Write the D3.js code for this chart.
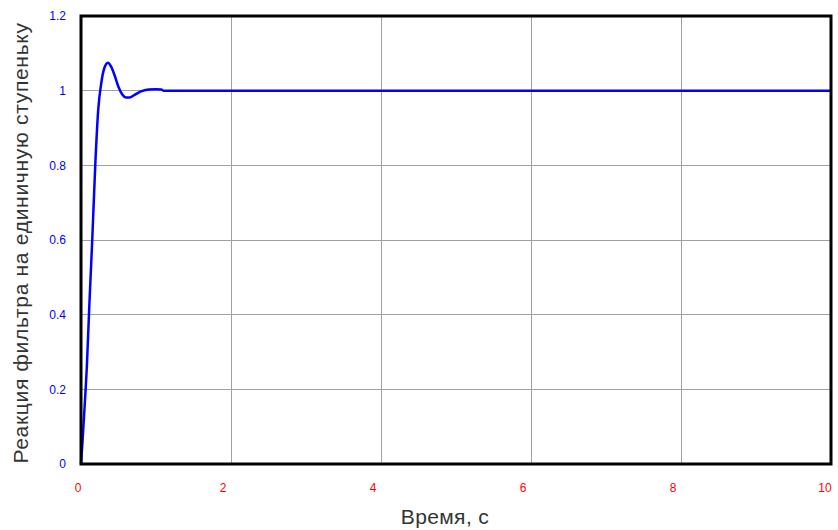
<!DOCTYPE html>
<html>
<head>
<meta charset="utf-8">
<script src="https://cdn.jsdelivr.net/npm/d3@7"></script>
<style>
  body { margin: 0; background: #fff; }
  text { font-family: "Liberation Sans", Arial, sans-serif; }
</style>
</head>
<body>
<div id="chart"></div>
<script>
// step response of the filter
var times  = [0, 0.02, 0.05, 0.08, 0.11, 0.15, 0.19, 0.23, 0.27, 0.31, 0.36, 0.40, 0.45, 0.50, 0.55, 0.60, 0.65, 0.70, 0.75, 0.80, 0.90, 1.00, 1.07, 1.10, 10];
var values = [0, 0.06, 0.16, 0.27, 0.42, 0.60, 0.80, 0.95, 1.02, 1.06, 1.075, 1.065, 1.04, 1.01, 0.99, 0.982, 0.982, 0.987, 0.993, 0.998, 1.003, 1.004, 1.003, 1.0, 1.0];
var xTicks = [0, 2, 4, 6, 8, 10];
var yTicks = [0, 0.2, 0.4, 0.6, 0.8, 1, 1.2];

var width = 838,
    height = 530,
    margin = { left: 81, right: 7, top: 16, bottom: 66 };

var svg = d3.select('#chart').append('svg')
  .attr('width', width)
  .attr('height', height);

var x = d3.scaleLinear().domain([0, 10]).range([margin.left, width - margin.right]);
var y = d3.scaleLinear().domain([0, 1.2]).range([height - margin.bottom, margin.top]);

// grid
svg.append('g')
  .selectAll('line')
  .data(xTicks.slice(1, -1))
  .enter().append('line')
  .attr('x1', function(d) { return x(d); })
  .attr('x2', function(d) { return x(d); })
  .attr('y1', y(0)).attr('y2', y(1.2))
  .attr('stroke', '#a0a0a0').attr('stroke-width', 1)
  .attr('shape-rendering', 'crispEdges');

svg.append('g')
  .selectAll('line')
  .data(yTicks.slice(1, -1))
  .enter().append('line')
  .attr('y1', function(d) { return y(d); })
  .attr('y2', function(d) { return y(d); })
  .attr('x1', x(0)).attr('x2', x(10))
  .attr('stroke', '#a0a0a0').attr('stroke-width', 1)
  .attr('shape-rendering', 'crispEdges');

// curve
var line = d3.line()
  .x(function(d, i) { return x(times[i]); })
  .y(function(d) { return y(d); })
  .curve(d3.curveMonotoneX);

svg.append('path')
  .datum(values)
  .attr('d', line)
  .attr('fill', 'none')
  .attr('stroke', '#0000ff')
  .attr('stroke-width', 2.5);

// frame
svg.append('rect')
  .attr('x', x(0)).attr('y', y(1.2))
  .attr('width', x(10) - x(0))
  .attr('height', y(0) - y(1.2))
  .attr('fill', 'none')
  .attr('stroke', '#000')
  .attr('stroke-width', 3);

// tick labels
svg.append('g')
  .selectAll('text')
  .data(yTicks)
  .enter().append('text')
  .attr('x', 66)
  .attr('y', function(d) { return y(d); })
  .attr('dy', '0.35em')
  .attr('text-anchor', 'end')
  .attr('fill', '#0000ff')
  .style('font-size', '12px')
  .text(function(d) { return d; });

svg.append('g')
  .selectAll('text')
  .data(xTicks)
  .enter().append('text')
  .attr('x', function(d, i) { return x(d) + (i == 0 ? -3 : (i == xTicks.length - 1 ? -6 : -8)); })
  .attr('y', 492)
  .attr('text-anchor', 'middle')
  .attr('fill', '#ff0000')
  .style('font-size', '12px')
  .text(function(d) { return d; });

// axis titles
svg.append('text')
  .attr('x', 445).attr('y', 524)
  .attr('text-anchor', 'middle')
  .attr('fill', '#333')
  .style('font-size', '21px')
  .style('letter-spacing', '0.4px')
  .text('Время, с');

svg.append('text')
  .attr('transform', 'translate(28,243) rotate(-90)')
  .attr('text-anchor', 'middle')
  .attr('fill', '#333')
  .style('font-size', '21px')
  .style('letter-spacing', '0.7px')
  .text('Реакция фильтра на единичную ступеньку');
</script>
</body>
</html>
